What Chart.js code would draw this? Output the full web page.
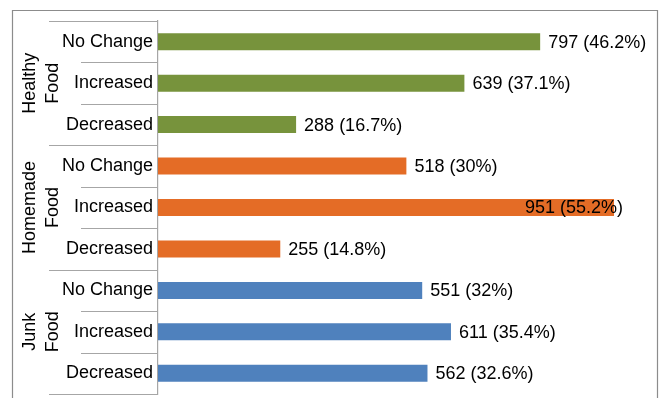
<!DOCTYPE html>
<html>
<head>
<meta charset="utf-8">
<script src="https://cdn.jsdelivr.net/npm/chart.js@4.4.1/dist/chart.umd.min.js"></script>
<style>
  html, body { margin: 0; padding: 0; background: #fff; }
  #wrap { width: 659px; height: 398px; position: relative; }
</style>
</head>
<body>
<div id="wrap"><canvas id="c"></canvas></div>
<script>
// ---- data ----
const categories = ['No Change', 'Increased', 'Decreased',
                    'No Change', 'Increased', 'Decreased',
                    'No Change', 'Increased', 'Decreased'];
const groupNames = [['Healthy', 'Food'], ['Homemade', 'Food'], ['Junk', 'Food']];
const healthyFood = [797, 639, 288];
const homemadeFood = [518, 951, 255];
const junkFood = [551, 611, 562];
const healthyPct = ['46.2%', '37.1%', '16.7%'];
const homemadePct = ['30%', '55.2%', '14.8%'];
const junkPct = ['32%', '35.4%', '32.6%'];
const groupColors = ['#77933C', '#E46C26', '#4F81BD'];

const values = [...healthyFood, ...homemadeFood, ...junkFood];
const pcts = [...healthyPct, ...homemadePct, ...junkPct];
const barColors = values.map((v, i) => groupColors[Math.floor(i / 3)]);

const FONT = '"Liberation Sans", Arial, sans-serif';

const decorPlugin = {
  id: 'decor',
  afterDraw(chart) {
    const ctx = chart.ctx;
    const area = chart.chartArea;
    const ys = chart.scales.y;
    const n = categories.length;
    const step = (area.bottom - area.top) / n;
    ctx.save();
    // category separators
    ctx.strokeStyle = '#a6a6a6';
    ctx.lineWidth = 1;
    for (let i = 0; i <= n; i++) {
      const yy = Math.round(ys.getPixelForValue(0) - step / 2 + i * step) + 0.5;
      const isGroup = i % 3 === 0;
      const x0 = area.left - (isGroup ? 109 : 77);
      ctx.beginPath();
      ctx.moveTo(x0, yy);
      ctx.lineTo(area.left, yy);
      ctx.stroke();
    }
    // group labels (rotated)
    ctx.fillStyle = '#000';
    ctx.font = '18px ' + FONT;
    ctx.textAlign = 'center';
    ctx.textBaseline = 'middle';
    groupNames.forEach((lines, g) => {
      const cy = ys.getPixelForValue(g * 3 + 1);
      ctx.save();
      ctx.translate(area.left - 116.5, cy);
      ctx.rotate(-Math.PI / 2);
      const lh = 22.5;
      lines.forEach((t, k) => {
        ctx.fillText(t, 0, (k - (lines.length - 1) / 2) * lh);
      });
      ctx.restore();
    });
    // data labels
    const meta = chart.getDatasetMeta(0);
    ctx.textAlign = 'left';
    const limit = chart.width - 4;
    meta.data.forEach((bar, i) => {
      const txt = values[i] + ' (' + pcts[i] + ')';
      const w = ctx.measureText(txt).width;
      let x = bar.x + 8;
      if (x + w > limit) x = bar.x + 9 - w;
      ctx.fillText(txt, x, bar.y + 1);
    });
    // outer border
    ctx.strokeStyle = '#8c8c8c';
    ctx.lineWidth = 1.2;
    ctx.beginPath();
    ctx.moveTo(12.5, 400);
    ctx.lineTo(12.5, 10.5);
    ctx.lineTo(657.5, 10.5);
    ctx.lineTo(657.5, 400);
    ctx.stroke();
    ctx.restore();
  }
};

new Chart(document.getElementById('c'), {
  type: 'bar',
  data: {
    labels: categories,
    datasets: [{
      data: values,
      backgroundColor: barColors,
      borderWidth: 0,
      barPercentage: 0.41,
      categoryPercentage: 1.0
    }]
  },
  options: {
    indexAxis: 'y',
    responsive: true,
    maintainAspectRatio: false,
    animation: false,
    devicePixelRatio: 1,
    layout: { padding: { left: 0, top: 21, right: 21.5, bottom: 4 } },
    plugins: { legend: { display: false }, tooltip: { enabled: false } },
    scales: {
      x: { display: false, min: 0, max: 1000 },
      y: {
        afterFit(scale) {
          scale.width = 158;
          scale.paddingTop = 0;
          scale.paddingBottom = 0;
        },
        grid: { display: false, drawTicks: false },
        border: { display: true, color: '#a6a6a6', width: 1.2 },
        ticks: {
          color: '#000',
          padding: 5,
          font: { size: 18, family: FONT }
        }
      }
    }
  },
  plugins: [decorPlugin]
});
</script>
</body>
</html>
